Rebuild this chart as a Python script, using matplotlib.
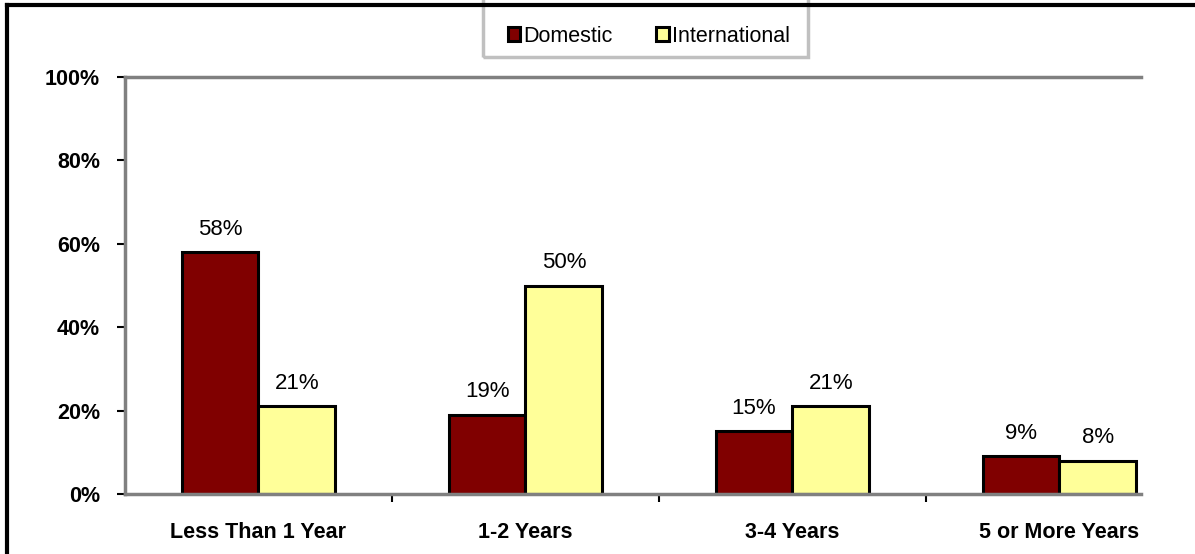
import matplotlib.pyplot as plt
from matplotlib.patches import Rectangle
from matplotlib.lines import Line2D
import numpy as np

plt.rcParams['font.family'] = ['Liberation Sans', 'DejaVu Sans']

categories = ['Less Than 1 Year', '1-2 Years', '3-4 Years', '5 or More Years']
domestic = [58, 19, 15, 9]
international = [21, 50, 21, 8]
yticks = [0, 20, 40, 60, 80, 100]

fig = plt.figure(figsize=(11.95, 5.54), dpi=100)
ax = fig.add_axes([0.1046, 0.1083, 0.8502, 0.7527])

x = np.arange(len(categories))
w = 0.288
b1 = ax.bar(x - w/2, domestic, w, color='#800000', edgecolor='black', linewidth=2.2, label='Domestic')
b2 = ax.bar(x + w/2, international, w, color='#ffff99', edgecolor='black', linewidth=2.2, label='International')

for bars, vals in [(b1, domestic), (b2, international)]:
    for r, v in zip(bars, vals):
        ax.annotate(f'{v}%', (r.get_x() + r.get_width()/2, v), xytext=(0, 9),
                    textcoords='offset points', ha='center', va='bottom', fontsize=16)

# category spacing of about 267 px, axis ends short of the last boundary
ax.set_xlim(-0.5, 1016/267 - 0.5)
ax.set_ylim(0, 100)
ax.set_yticks(yticks)
ax.set_yticklabels([f'{t}%' for t in yticks], fontsize=15.5, fontweight='bold')
ax.set_xticks(x)
ax.set_xticklabels(categories, fontsize=15.5, fontweight='bold')
ax.tick_params(axis='x', length=0, pad=20)
ax.set_xticks(np.arange(0.5, 3.5, 1), minor=True)
ax.tick_params(axis='x', which='minor', length=6, width=1.5, color='black', direction='out')
ax.tick_params(axis='y', length=6, width=1.5, color='black', direction='out', pad=12)

for s in ['left', 'bottom', 'top']:
    ax.spines[s].set_color('#808080')
    ax.spines[s].set_linewidth(2.5)
ax.spines['right'].set_visible(False)

# legend box (top cut off)
fig.patches.append(Rectangle((483/1195, 1 - 57/554), 325/1195, 0.2, transform=fig.transFigure,
                             fill=False, edgecolor='#c0c0c0', linewidth=2.5, clip_on=False))
fig.legend(handles=[b1, b2], loc='center', bbox_to_anchor=(0.543, 1 - 36/554), ncol=2,
           frameon=False, fontsize=15.5, handlelength=0.6, handleheight=0.6, handletextpad=0.15,
           columnspacing=2.0)

# outer frame
fig.lines.append(Line2D([7/1195, 7/1195], [0, 1 - 5/554], transform=fig.transFigure, color='black', linewidth=3))
fig.lines.append(Line2D([7/1195, 1], [1 - 5/554, 1 - 5/554], transform=fig.transFigure, color='black', linewidth=3))

fig.savefig('out.png', dpi=100)
